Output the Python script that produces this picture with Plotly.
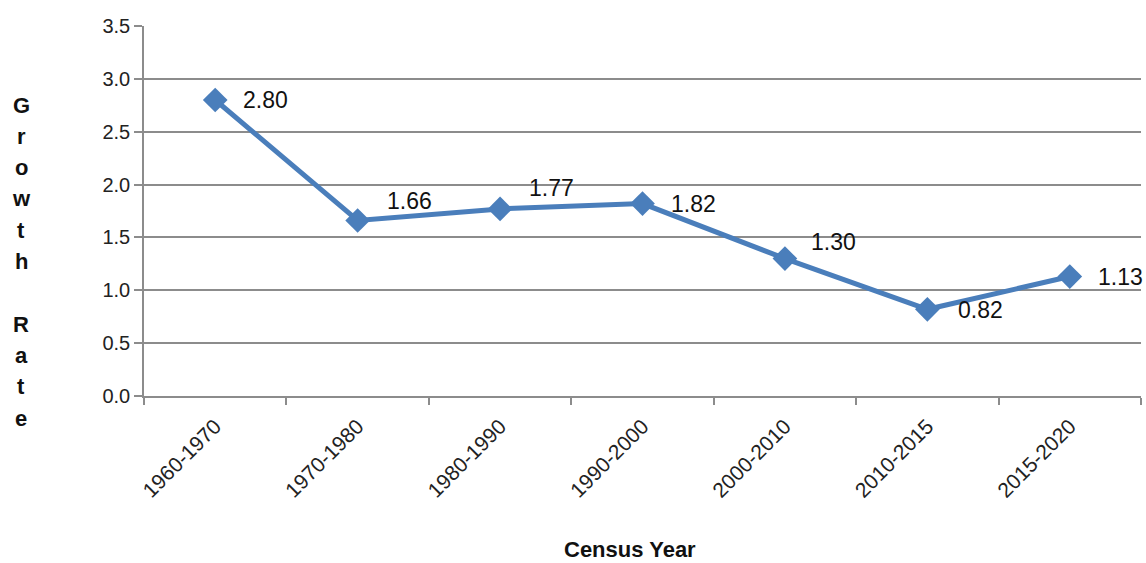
import plotly.graph_objects as go

categories = ["1960-1970", "1970-1980", "1980-1990", "1990-2000", "2000-2010", "2010-2015", "2015-2020"]
growth = [2.80, 1.66, 1.77, 1.82, 1.30, 0.82, 1.13]
label_text = ["2.80", "1.66", "1.77", "1.82", "1.30", "0.82", "1.13"]
# label offsets (pixels) relative to each point
label_dx = [26, 27, 27, 26, 24, 29, 26]
label_dy = [0, 20, 21, 0, 17, -1, 0]

W, H = 1146, 563
L, R, T, B = 144, 5, 26, 167

fig = go.Figure()
fig.add_trace(go.Scatter(
    x=categories, y=growth, mode="lines+markers",
    line=dict(color="#4A7EBB", width=5),
    marker=dict(symbol="diamond", size=19, color="#4A7EBB"),
    showlegend=False, hoverinfo="skip",
))

for c, v, t, dx, dy in zip(categories, growth, label_text, label_dx, label_dy):
    fig.add_annotation(x=c, y=v, text=t, showarrow=False, xanchor="left", yanchor="middle",
                       xshift=dx, yshift=dy,
                       font=dict(family="Liberation Sans, Arial", size=23, color="#111111"))

# stacked y-axis title
letters = list("Growth") + [""] + list("Rate")
y0_px, step = 105, 31.3
ph = H - T - B
for i, ch in enumerate(letters):
    if not ch:
        continue
    ypx = y0_px + i * step
    fig.add_annotation(xref="paper", yref="paper", x=(21 - L) / (W - L - R), y=(H - B - ypx) / ph,
                       text=ch, showarrow=False, xanchor="center", yanchor="middle",
                       font=dict(family="Liberation Sans, Arial", size=22, color="#111111", weight="bold"))

fig.add_annotation(xref="paper", yref="paper", x=(630 - L) / (W - L - R), y=(H - B - 549) / ph,
                   text="Census Year", showarrow=False, xanchor="center", yanchor="middle",
                   borderpad=0,
                   font=dict(family="Liberation Sans, Arial", size=22, color="#111111", weight="bold"))

fig.update_layout(
    width=W, height=H,
    margin=dict(l=L, r=R, t=T, b=B),
    paper_bgcolor="white", plot_bgcolor="white",
    font=dict(family="Liberation Sans, Arial", color="#222222"),
)
fig.update_xaxes(
    type="category", tickson="boundaries", ticks="outside", ticklen=7, tickcolor="#8C8C8C",
    tickwidth=1.5, showline=True, linecolor="#8C8C8C", linewidth=1.5, showgrid=False,
    tickangle=-45, tickfont=dict(size=21, color="#222222"), range=[-0.5, 6.5],
    ticklabelstandoff=8,
)
fig.update_yaxes(
    range=[0, 3.5], dtick=0.5, tickformat=".1f", ticks="outside", ticklen=8, tickcolor="#8C8C8C",
    tickwidth=1.5, showline=True, linecolor="#8C8C8C", linewidth=1.5,
    showgrid=True, gridcolor="#8C8C8C", gridwidth=1.5, zeroline=False,
    tickfont=dict(size=20, color="#222222"),
)

fig.write_html("out.html", config={"displayModeBar": False},
               post_script="document.body.style.margin='0';document.body.style.padding='0';")
